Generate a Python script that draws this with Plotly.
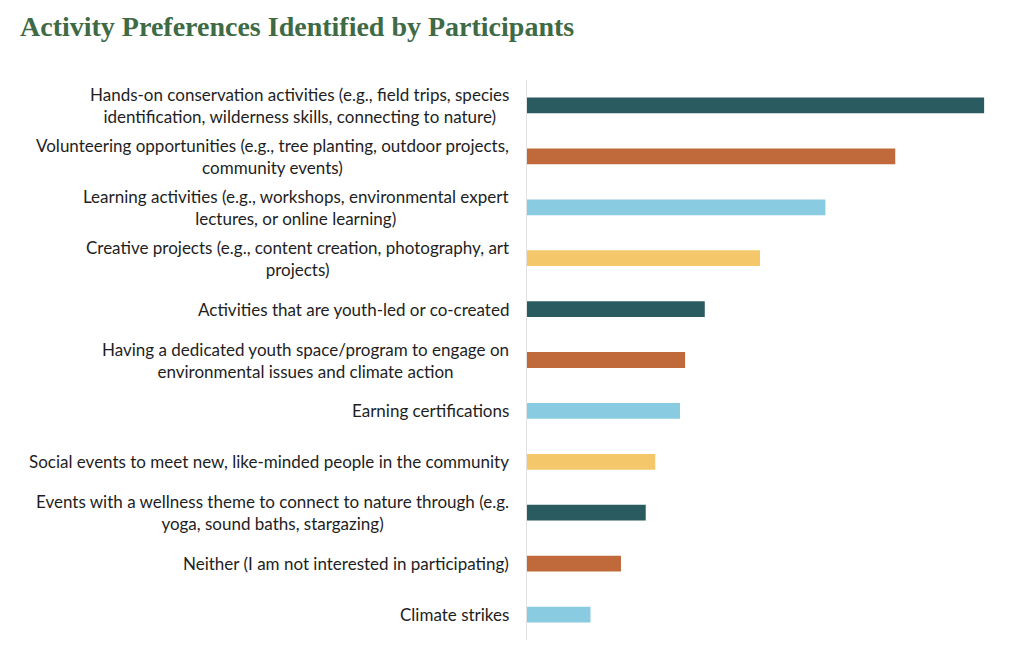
import plotly.graph_objects as go

categories = [
    "Hands-on conservation activities (e.g., field trips, species<br>identification, wilderness skills, connecting to nature)",
    "Volunteering opportunities (e.g., tree planting, outdoor projects,<br>community events)",
    "Learning activities (e.g., workshops, environmental expert<br>lectures, or online learning)",
    "Creative projects (e.g., content creation, photography, art<br>projects)",
    "Activities that are youth-led or co-created",
    "Having a dedicated youth space/program to engage on<br>environmental issues and climate action",
    "Earning certifications",
    "Social events to meet new, like-minded people in the community",
    "Events with a wellness theme to connect to nature through (e.g.<br>yoga, sound baths, stargazing)",
    "Neither (I am not interested in participating)",
    "Climate strikes",
]
values = [72, 58, 47, 36.7, 28, 24.9, 24.1, 20.2, 18.7, 14.8, 10]
palette = ["#2a5b60", "#c0693a", "#89cbe0", "#f4c76a"]
colors = [palette[i % 4] for i in range(len(categories))]

ids = list(range(len(categories)))

fig = go.Figure()
fig.add_trace(go.Bar(
    x=values, y=ids, orientation="h",
    marker=dict(color=colors, line=dict(width=0)),
    width=0.31, hoverinfo="skip",
))

for i, c in enumerate(categories):
    fig.add_annotation(
        x=0, y=i, xref="x", yref="y", text=c, showarrow=False,
        xanchor="right", yanchor="middle", align="center", xshift=-16,
        font=dict(family="Lato, 'Open Sans', sans-serif", size=17, color="#1e1e1e"),
    )

fig.update_layout(
    width=1024, height=660,
    margin=dict(l=527, r=24, t=80, b=20, pad=0),
    paper_bgcolor="white", plot_bgcolor="white",
    showlegend=False,
    title=dict(
        text="<b>Activity Preferences Identified by Participants</b>",
        x=20 / 1024, xanchor="left", y=1 - 26 / 660, yanchor="middle",
        font=dict(family="'Liberation Serif', serif", size=28, color="#3e6a45"),
    ),
    xaxis=dict(range=[0, 74.5], visible=False, showgrid=False, zeroline=False),
    yaxis=dict(range=[len(categories) - 0.5, -0.5], showticklabels=False, showgrid=False,
               zeroline=False, showline=True, linecolor="#e2e2e2", linewidth=1, ticks=""),
)

fig.write_html("out.html")
